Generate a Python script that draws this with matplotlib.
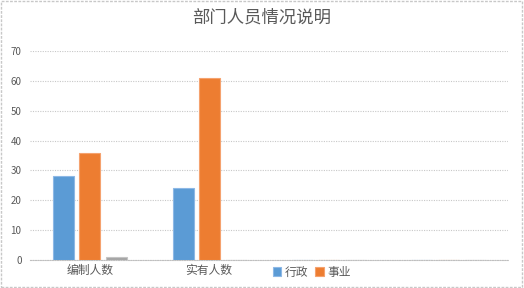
import matplotlib
matplotlib.use("Agg")
import matplotlib.pyplot as plt
import numpy as np
from matplotlib.patches import Rectangle

plt.rcParams['font.family'] = ['Noto Sans CJK SC', 'DejaVu Sans']

categories = ["编制人数", "实有人数", "", ""]
series_names = ["行政", "事业", ""]
xingzheng = [28, 24, 0, 0]
shiye = [36, 61, 0, 0]
other = [1, 0, 0, 0]
yticks = [0, 10, 20, 30, 40, 50, 60, 70]

colors = ["#5B9BD5", "#ED7D31", "#A5A5A5"]
edges = ["#8DB8E6", "#F5A26E", "#C4C4C4"]

fig = plt.figure(figsize=(5.24, 2.88), dpi=100)
fig.patch.set_facecolor("white")
ax = fig.add_axes([0.057, 0.097, 0.912, 0.726])

x = np.arange(len(categories))
width = 0.176
offsets = [-0.218, 0.0, 0.226]
handles = []
for vals, off, c, ec, name in zip([xingzheng, shiye, other], offsets, colors, edges, series_names):
    b = ax.bar(x + off, vals, width=width, color=c, edgecolor=ec, linewidth=0.8,
               label=name, zorder=3)
    handles.append(b)

ax.set_xlim(-0.5, len(categories) - 0.5)
ax.set_ylim(0, 70)
ax.set_yticks(yticks)
ax.set_yticklabels([str(v) for v in yticks], fontsize=7, color="#595959")
ax.set_xticks(x)
ax.set_xticklabels(categories, fontsize=8.5, color="#595959")
ax.tick_params(axis="both", length=0, pad=6)
ax.tick_params(axis="x", pad=3)
ax.yaxis.grid(True, color="#C8C8C8", linestyle=(0, (1, 1.2)), linewidth=0.8, zorder=0)
for s in ["top", "right", "left"]:
    ax.spines[s].set_visible(False)
ax.spines["bottom"].set_color("#BFBFBF")
ax.spines["bottom"].set_linestyle((0, (1, 1.2)))
ax.spines["bottom"].set_linewidth(0.8)

fig.suptitle("部门人员情况说明", fontsize=12.5, color="#595959", x=0.5, y=0.97)

leg = fig.legend(handles[:2], series_names[:2], loc="center", bbox_to_anchor=(0.595, 0.055),
                 ncol=2, frameon=False, fontsize=8.5, handlelength=0.7, handleheight=0.7,
                 handletextpad=0.3, columnspacing=0.6, labelcolor="#595959")

# outer chart border
fig.add_artist(Rectangle((0.002, 0.004), 0.995, 0.992, transform=fig.transFigure,
                         fill=False, edgecolor="#C8C8C8", linewidth=1.0, linestyle=(0, (2, 1))))

fig.savefig("out.png", dpi=100, facecolor="white")
